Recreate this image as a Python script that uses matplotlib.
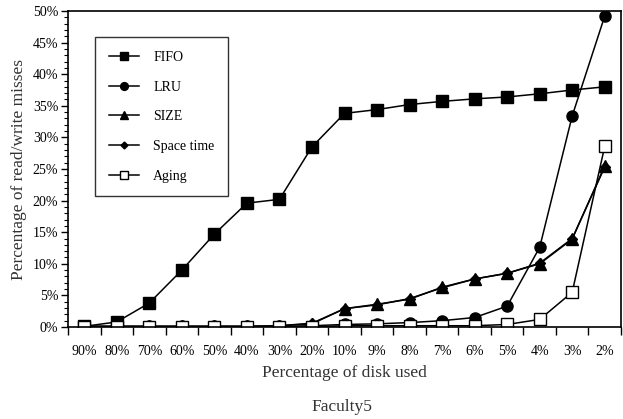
import matplotlib
matplotlib.use("Agg")
import matplotlib.pyplot as plt
from matplotlib.ticker import FixedLocator, MultipleLocator, FuncFormatter
import numpy as np

categories = ["90%", "80%", "70%", "60%", "50%", "40%", "30%", "20%", "10%",
              "9%", "8%", "7%", "6%", "5%", "4%", "3%", "2%"]
fifo = [0.1, 0.8, 3.8, 9.0, 14.7, 19.6, 20.2, 28.5, 33.8, 34.4, 35.2, 35.7, 36.1, 36.4, 36.9, 37.5, 38.0]
lru = [0.1, 0.1, 0.1, 0.1, 0.1, 0.1, 0.1, 0.2, 0.4, 0.5, 0.7, 1.0, 1.5, 3.3, 12.6, 33.4, 49.2]
size = [0.1, 0.1, 0.1, 0.1, 0.1, 0.1, 0.2, 0.5, 2.9, 3.6, 4.4, 6.3, 7.6, 8.5, 10.0, 13.9, 25.5]
space_time = [0.1, 0.1, 0.1, 0.1, 0.1, 0.1, 0.2, 0.6, 2.9, 3.5, 4.5, 6.2, 7.6, 8.5, 10.1, 14.0, 25.3]
aging = [0.0, 0.0, 0.0, 0.0, 0.0, 0.0, 0.0, 0.0, 0.2, 0.2, 0.2, 0.2, 0.2, 0.4, 1.2, 5.5, 28.6]

plt.rcParams['font.family'] = ['Liberation Serif', 'DejaVu Serif']

fig = plt.figure(figsize=(6.23, 4.19), dpi=100)
ax = fig.add_axes([68/623, 1-327/419, (621-68)/623, (327-11)/419])

x = np.arange(len(categories))
kw = dict(color='black', lw=1.1, markeredgecolor='black')
ax.plot(x, fifo, marker='s', ms=8, mfc='black', label='FIFO', **kw)
ax.plot(x, lru, marker='o', ms=8, mfc='black', label='LRU', **kw)
ax.plot(x, size, marker='^', ms=8.5, mfc='black', label='SIZE', **kw)
ax.plot(x, space_time, marker='D', ms=5, mfc='black', label='Space time', **kw)
ax.plot(x, aging, marker='s', ms=8, mfc='white', label='Aging', **kw)

ax.set_xlim(-0.5, len(categories) - 0.5)
ax.set_ylim(0, 50)
ax.xaxis.set_major_locator(FixedLocator(x))
ax.set_xticklabels(categories)
ax.xaxis.set_minor_locator(FixedLocator(np.arange(len(categories) + 1) - 0.5))
ax.tick_params(axis='x', which='major', length=0, pad=13, labelsize=10)
ax.tick_params(axis='x', which='minor', length=6, width=1, direction='out')

ax.yaxis.set_major_locator(MultipleLocator(5))
ax.yaxis.set_minor_locator(MultipleLocator(1))
ax.yaxis.set_major_formatter(FuncFormatter(lambda v, p: f"{int(round(v))}%"))
ax.tick_params(axis='y', which='major', length=5, width=1, direction='out', labelsize=10, pad=2)
ax.tick_params(axis='y', which='minor', length=3, width=0.8, direction='out')

for s in ax.spines.values():
    s.set_linewidth(1.2)

ax.set_ylabel("Percentage of read/write misses", fontsize=12.5, color='#333333', labelpad=4)
ax.set_xlabel("Percentage of disk used", fontsize=12.5, color='#333333', labelpad=5)
fig.text(0.5 + 30/623, 1 - 407/419, "Faculty5", ha='center', va='center', fontsize=12.5, color='#333333')

leg = ax.legend(loc='upper left', bbox_to_anchor=((95-68)/553, (327-37)/316),
                frameon=True, fancybox=False, edgecolor='black', fontsize=10,
                labelspacing=1.2, handlelength=2.2, borderpad=1.0, handletextpad=1.0,
                borderaxespad=0, markerscale=0.7)
leg.get_frame().set_linewidth(1.0)

fig.savefig("out.png", dpi=100)
